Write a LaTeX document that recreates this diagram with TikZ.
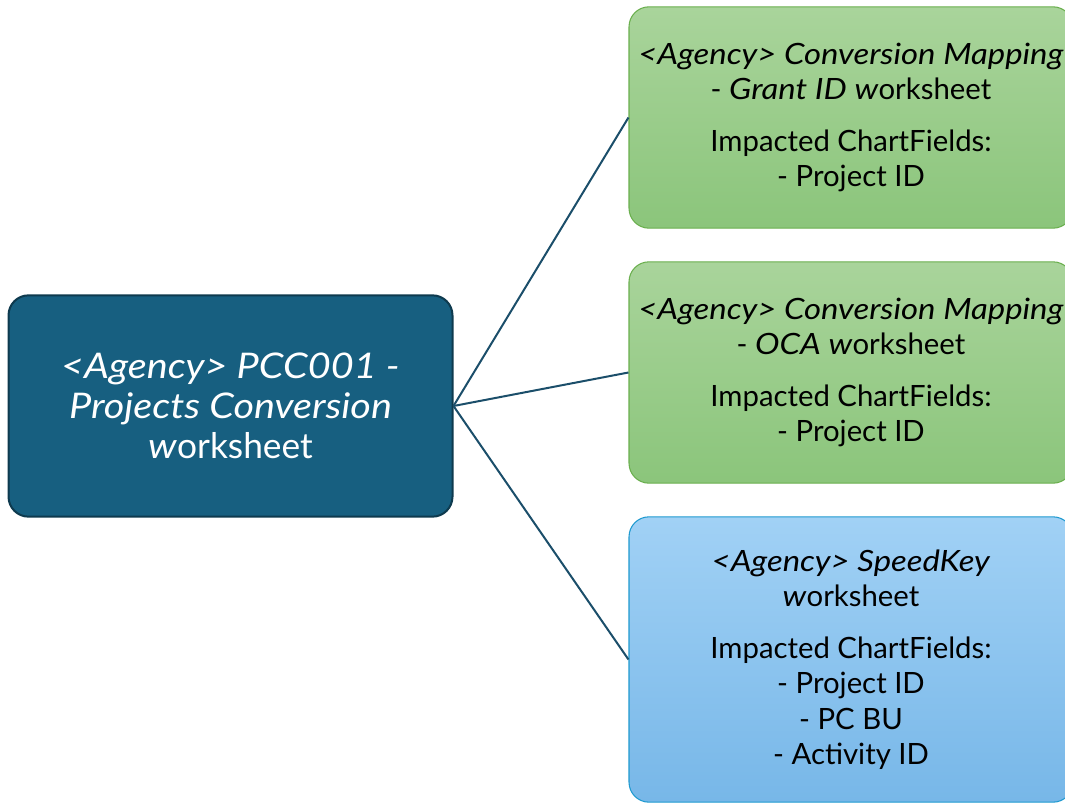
\documentclass[tikz,border=0pt]{standalone}
\usepackage{fontspec}
\setmainfont{Lato}[ItalicFeatures={FakeStretch=1.12}]
\definecolor{mainfill}{HTML}{175F80}
\definecolor{mainline}{HTML}{0E3A4E}
\definecolor{grtop}{HTML}{A9D49B}
\definecolor{grbot}{HTML}{8BC57B}
\definecolor{grline}{HTML}{6AAF4E}
\definecolor{bltop}{HTML}{A1D1F5}
\definecolor{blbot}{HTML}{77B7E8}
\definecolor{blline}{HTML}{1F9AD0}
\definecolor{linkcol}{HTML}{1B4E6A}
\begin{document}
\begin{tikzpicture}[x=0.75pt,y=-0.75pt,
  mainbox/.style={rounded corners=15pt, draw=mainline, line width=1.5pt, fill=mainfill, text=white, align=center, minimum width=333pt, minimum height=166pt, font=\fontsize{26.5}{30}\selectfont},
  sheetbox/.style={rounded corners=15pt, line width=0.8pt, align=center, minimum width=333pt, text=black, font=\fontsize{22}{26.3}\selectfont},
  greenbox/.style={sheetbox, draw=grline, top color=grtop, bottom color=grbot, minimum height=166pt},
  bluebox/.style={sheetbox, draw=blline, top color=bltop, bottom color=blbot, minimum height=214pt},
  link/.style={draw=linkcol, line width=1.5pt}]
\useasboundingbox (0,0) rectangle (1065,803);
\node[mainbox] (pcc) at (230.5,406){\textit{<Agency> PCC001 -}\\\textit{Projects Conversion}\\\textit{w}orksheet};
\node[greenbox] (grant) at (851,117.5){\textit{<Agency> Conversion Mapping}\\- \textit{Grant ID w}orksheet\\[13pt]Impacted ChartFields:\\- Project ID};
\node[greenbox] (oca) at (851,372.5){\textit{<Agency> Conversion Mapping}\\- \textit{OCA w}orksheet\\[13pt]Impacted ChartFields:\\- Project ID};
\node[bluebox] (speed) at (851,659.5){\textit{<Agency> SpeedKey}\\\textit{w}orksheet\\[13pt]Impacted ChartFields:\\- Project ID\\- PC BU\\- Activity ID};
\draw[link](pcc.east) -- (grant.west);
\draw[link](pcc.east) -- (oca.west);
\draw[link](pcc.east) -- (speed.west);
\end{tikzpicture}
\end{document}
